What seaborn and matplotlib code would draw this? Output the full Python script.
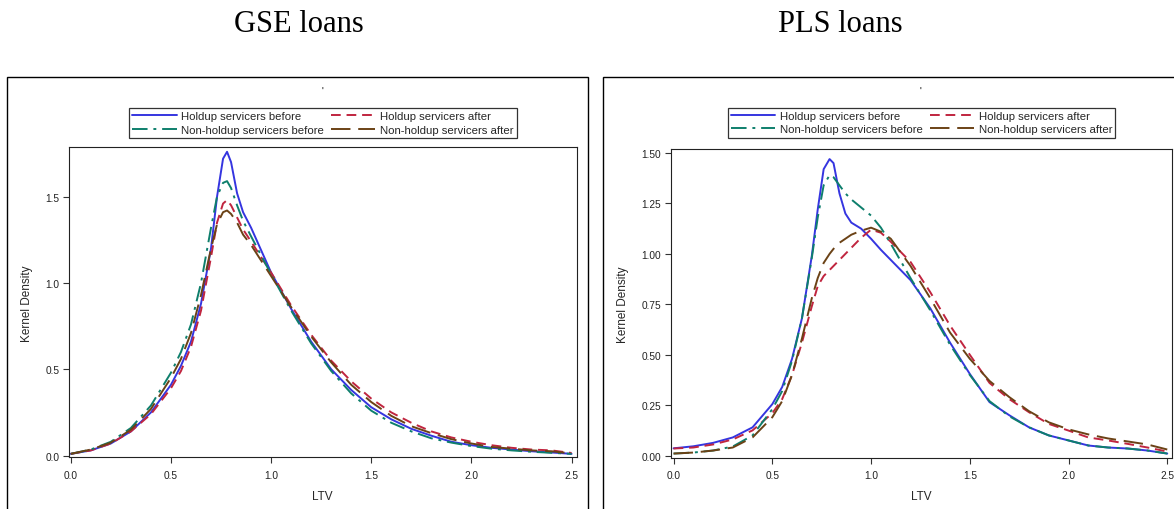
import numpy as np
import pandas as pd
import matplotlib
matplotlib.use("Agg")
import matplotlib.pyplot as plt
from matplotlib.patches import Rectangle
import seaborn as sns

# ---- data (kernel density of LTV) ----
series_names = ["Holdup servicers before", "Holdup servicers after",
                "Non-holdup servicers before", "Non-holdup servicers after"]

gse_ltv = [0, 0.1, 0.2, 0.3, 0.4, 0.5, 0.55, 0.6, 0.65, 0.7, 0.73, 0.76, 0.78, 0.8,
           0.83, 0.86, 0.9, 0.95, 1.0, 1.1, 1.2, 1.3, 1.4, 1.5, 1.6, 1.7, 1.8, 1.9,
           2.0, 2.1, 2.2, 2.3, 2.4, 2.5]
gse_hold_before = [0.01, 0.03, 0.07, 0.14, 0.25, 0.41, 0.52, 0.66, 0.88, 1.20, 1.50, 1.72, 1.76, 1.70,
                   1.52, 1.41, 1.32, 1.19, 1.06, 0.85, 0.66, 0.50, 0.38, 0.28, 0.21, 0.155, 0.115, 0.08,
                   0.06, 0.045, 0.035, 0.025, 0.018, 0.01]
gse_hold_after = [0.01, 0.03, 0.07, 0.14, 0.24, 0.39, 0.49, 0.63, 0.84, 1.15, 1.35, 1.46, 1.48, 1.45,
                  1.38, 1.31, 1.24, 1.15, 1.06, 0.87, 0.70, 0.55, 0.43, 0.33, 0.25, 0.19, 0.14, 0.105,
                  0.08, 0.06, 0.045, 0.035, 0.03, 0.015]
gse_non_before = [0.01, 0.035, 0.08, 0.16, 0.29, 0.48, 0.60, 0.76, 1.00, 1.32, 1.50, 1.58, 1.59, 1.55,
                  1.45, 1.36, 1.27, 1.16, 1.05, 0.84, 0.65, 0.49, 0.36, 0.26, 0.19, 0.14, 0.10, 0.075,
                  0.055, 0.04, 0.03, 0.022, 0.016, 0.01]
gse_non_after = [0.01, 0.035, 0.075, 0.15, 0.27, 0.45, 0.56, 0.71, 0.93, 1.20, 1.34, 1.41, 1.42, 1.40,
                 1.35, 1.28, 1.22, 1.13, 1.04, 0.86, 0.69, 0.54, 0.41, 0.31, 0.23, 0.17, 0.13, 0.095,
                 0.07, 0.05, 0.04, 0.03, 0.025, 0.012]

pls_ltv = [0, 0.1, 0.2, 0.3, 0.4, 0.5, 0.55, 0.6, 0.65, 0.7, 0.73, 0.76, 0.79, 0.81,
           0.84, 0.87, 0.9, 0.95, 1.0, 1.05, 1.1, 1.2, 1.3, 1.4, 1.5, 1.6, 1.7, 1.8,
           1.9, 2.0, 2.1, 2.2, 2.3, 2.4, 2.5]
pls_hold_before = [0.036, 0.046, 0.063, 0.09, 0.14, 0.255, 0.34, 0.48, 0.68, 0.99, 1.22, 1.42, 1.47, 1.45,
                   1.30, 1.20, 1.155, 1.125, 1.075, 1.02, 0.97, 0.87, 0.73, 0.56, 0.405, 0.265, 0.20, 0.14,
                   0.10, 0.075, 0.05, 0.04, 0.035, 0.025, 0.01]
pls_hold_after = [0.035, 0.04, 0.055, 0.08, 0.125, 0.21, 0.28, 0.40, 0.56, 0.74, 0.84, 0.89, 0.92, 0.94,
                  0.97, 1.00, 1.03, 1.08, 1.12, 1.105, 1.06, 0.96, 0.81, 0.645, 0.50, 0.36, 0.28, 0.215,
                  0.157, 0.124, 0.09, 0.075, 0.058, 0.04, 0.02]
pls_non_before = [0.01, 0.015, 0.025, 0.045, 0.10, 0.23, 0.32, 0.47, 0.68, 0.98, 1.18, 1.34, 1.39, 1.38,
                  1.34, 1.30, 1.27, 1.23, 1.19, 1.13, 1.05, 0.88, 0.72, 0.55, 0.40, 0.27, 0.195, 0.14,
                  0.10, 0.075, 0.05, 0.04, 0.035, 0.025, 0.01]
pls_non_after = [0.01, 0.015, 0.025, 0.04, 0.09, 0.19, 0.27, 0.40, 0.58, 0.78, 0.88, 0.955, 1.00, 1.025,
                 1.055, 1.075, 1.095, 1.115, 1.13, 1.11, 1.075, 0.94, 0.78, 0.61, 0.48, 0.37, 0.29, 0.22,
                 0.165, 0.13, 0.105, 0.085, 0.07, 0.055, 0.03]

panel_titles = ["GSE loans", "PLS loans"]

# ---- styles ----
colors = ["#3535E0", "#C0253F", "#0E7F6C", "#6B4216"]
styles = ["-", (0, (5, 3)), (0, (8, 3, 1.5, 3)), (0, (10, 4))]

sns.set_style("white")
plt.rcParams["font.family"] = ["Liberation Sans", "DejaVu Sans"]

fig = plt.figure(figsize=(11.74, 5.10), dpi=100)

# panel frames
fig.patches.append(Rectangle((7 / 1174, -0.05), 581 / 1174, 1.05 - 78 / 510,
                             transform=fig.transFigure, fill=False, ec="black", lw=1.0))
fig.patches.append(Rectangle((603 / 1174, -0.05), 600 / 1174, 1.05 - 78 / 510,
                             transform=fig.transFigure, fill=False, ec="black", lw=1.0))

ax1 = fig.add_axes([69 / 1174, 1 - 458.3 / 510, 507.6 / 1174, 310 / 510])
ax2 = fig.add_axes([671 / 1174, 1 - 459 / 510, 501 / 1174, 309 / 510])

panels = [
    (ax1, gse_ltv, [gse_hold_before, gse_hold_after, gse_non_before, gse_non_after], 1.030),
    (ax2, pls_ltv, [pls_hold_before, pls_hold_after, pls_non_before, pls_non_after], 1.036),
]

for ax, ltv, curves, leg_y in panels:
    df = pd.DataFrame({"LTV": ltv})
    for name, vals in zip(series_names, curves):
        df[name] = vals
    for name, col, ls in zip(series_names, colors, styles):
        sns.lineplot(data=df, x="LTV", y=name, ax=ax, color=col, linestyle=ls,
                     linewidth=1.4, label=name, legend=False)
    ax.set_xlabel("LTV", fontsize=8.5, labelpad=7)
    ax.set_ylabel("Kernel Density", fontsize=8.5, labelpad=9)
    ax.set_xticks([0, 0.5, 1.0, 1.5, 2.0, 2.5])
    ax.tick_params(axis="both", labelsize=7.3, length=4, width=0.8, direction="out",
                   left=True, bottom=True, pad=3, colors="#333333", labelcolor="#222222")
    ax.tick_params(axis="x", pad=5)
    for sp in ax.spines.values():
        sp.set_linewidth(0.8)
        sp.set_color("#222222")
    handles, labels = ax.get_legend_handles_labels()
    order = [0, 2, 1, 3]
    leg = ax.legend([handles[i] for i in order], [labels[i] for i in order],
                    ncol=2, loc="lower center", bbox_to_anchor=(0.5, leg_y),
                    borderaxespad=0, fontsize=8.2, frameon=True, fancybox=False,
                    handlelength=3.9, handletextpad=0.4, columnspacing=0.6,
                    labelspacing=0.3, borderpad=0.3)
    leg.get_frame().set_edgecolor("black")
    leg.get_frame().set_linewidth(0.9)

ax1.set_xlim(-0.009, 2.525)
ax1.set_ylim(-0.01, 1.786)
ax1.set_yticks([0.0, 0.5, 1.0, 1.5])
ax1.yaxis.set_major_formatter(matplotlib.ticker.FormatStrFormatter("%.1f"))
ax1.xaxis.set_major_formatter(matplotlib.ticker.FormatStrFormatter("%.1f"))

ax2.set_xlim(-0.013, 2.524)
ax2.set_ylim(-0.012, 1.52)
ax2.set_yticks([0.0, 0.25, 0.5, 0.75, 1.0, 1.25, 1.5])
ax2.yaxis.set_major_formatter(matplotlib.ticker.FormatStrFormatter("%.2f"))
ax2.xaxis.set_major_formatter(matplotlib.ticker.FormatStrFormatter("%.1f"))

# panel titles
fig.text(299 / 1174, 1 - 25 / 510, panel_titles[0], ha="center", va="center",
         fontsize=22, family="Liberation Serif", color="black")
fig.text(840 / 1174, 1 - 25 / 510, panel_titles[1], ha="center", va="center",
         fontsize=22, family="Liberation Serif", color="black")
# tiny empty-title marks
fig.text(322 / 1174, 1 - 92 / 510, "'", ha="center", va="center", fontsize=7, color="black")
fig.text(920 / 1174, 1 - 92 / 510, "'", ha="center", va="center", fontsize=7, color="black")

fig.savefig("out.png", dpi=100)
